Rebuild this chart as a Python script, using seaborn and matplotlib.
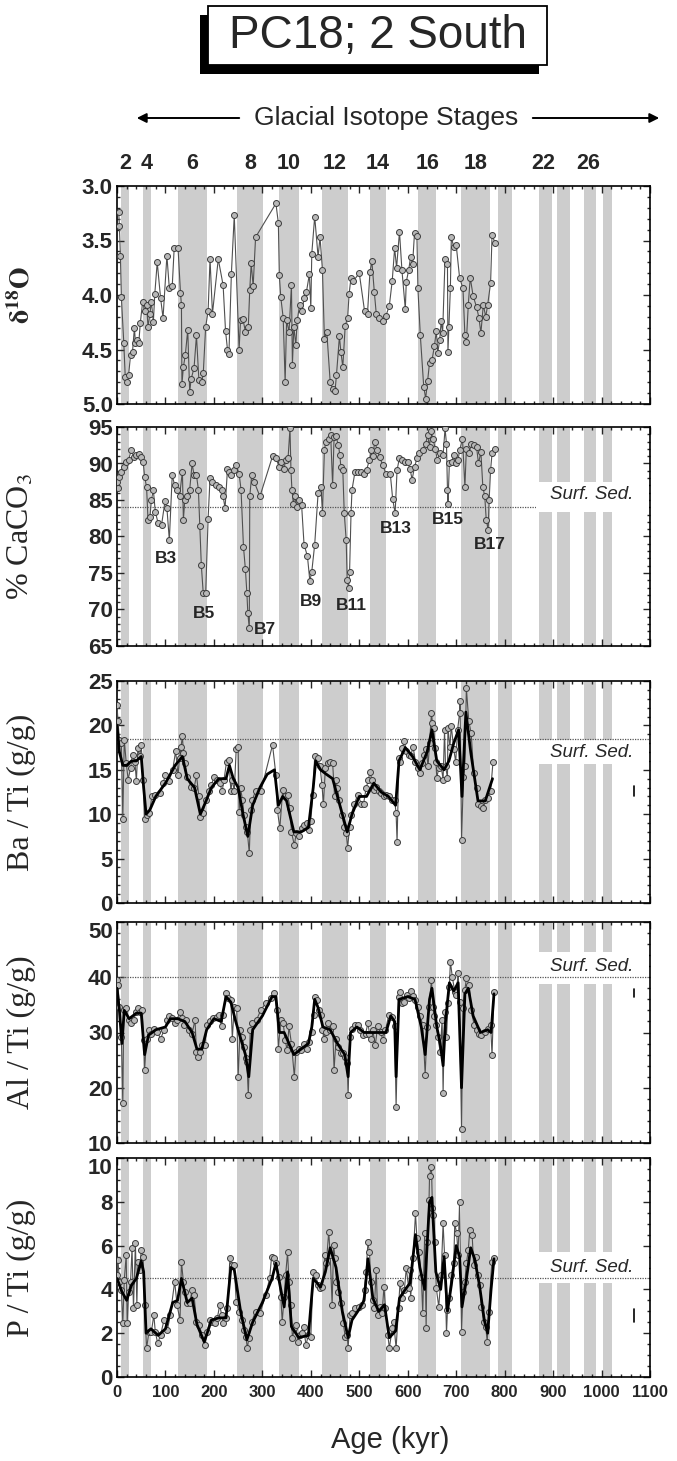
import pandas as pd
import seaborn as sns
import matplotlib.pyplot as plt
from matplotlib.patches import Rectangle, FancyArrowPatch
from matplotlib.ticker import MultipleLocator

# glacial isotope stage bands (kyr)
band_start = [9, 53, 126, 248, 335, 423, 522, 622, 709, 787, 870, 909, 964, 1004]
band_end = [25, 71, 185, 302, 376, 476, 555, 659, 769, 816, 897, 934, 989, 1021]
stage_labels = ['2', '4', '6', '8', '10', '12', '14', '16', '18', '22', '26']
stage_pos = [17, 62, 155, 275, 355, 450, 538, 640, 739, 880, 972]

# d18O
d18o_age = [3.5, 5, 7, 9, 14, 17, 21, 24, 28, 32,
            36, 38, 41, 45, 48, 53, 57, 61, 64, 68,
            71, 75, 78, 83, 90, 95, 103, 108, 114, 118,
            126, 131, 133, 134, 137, 141, 146, 150, 153, 159,
            164, 169, 175, 178, 183, 188, 192, 197, 209, 219,
            224, 228, 231, 236, 242, 252, 255, 260, 265, 271,
            274, 277, 281, 286, 328, 333, 335, 338, 343, 347,
            350, 355, 360, 362, 365, 369, 372, 377, 382, 386,
            391, 397, 400, 402, 408, 415, 419, 424, 428, 433,
            440, 445, 450, 453, 459, 462, 466, 471, 476, 479,
            483, 488, 500, 511, 517, 522, 526, 531, 535, 541,
            548, 555, 562, 568, 573, 577, 583, 588, 595, 597,
            602, 606, 610, 614, 619, 621, 626, 633, 637, 641,
            645, 650, 655, 659, 662, 666, 669, 672, 677, 682,
            683, 685, 688, 690, 695, 700, 707, 714, 718, 721,
            725, 729, 735, 742, 747, 751, 756, 761, 765, 771,
            774, 780]
d18o_val = [3.24, 3.37, 3.64, 4.02, 4.44, 4.75, 4.80, 4.73, 4.55, 4.52,
            4.30, 4.44, 4.41, 4.44, 4.26, 4.06, 4.15, 4.09, 4.29, 4.17,
            4.06, 4.25, 3.99, 3.70, 4.03, 4.21, 3.64, 3.94, 3.92, 3.57,
            3.57, 3.98, 4.09, 4.82, 4.66, 4.55, 4.32, 4.89, 4.77, 4.67,
            4.37, 4.78, 4.80, 4.72, 4.29, 4.15, 3.67, 4.17, 3.67, 3.91,
            4.33, 4.50, 4.54, 3.81, 3.27, 4.50, 4.23, 4.22, 4.34, 4.29,
            3.95, 3.71, 3.92, 3.47, 3.16, 3.34, 3.82, 4.02, 4.21, 4.80,
            4.23, 4.34, 3.91, 4.64, 4.29, 4.46, 4.23, 4.09, 4.15, 4.03,
            3.97, 3.81, 4.12, 3.62, 3.28, 3.65, 3.47, 3.77, 4.40, 4.34,
            4.80, 4.86, 4.88, 4.73, 4.38, 4.52, 4.66, 4.28, 4.21, 3.99,
            3.84, 3.87, 3.80, 4.15, 4.17, 3.79, 3.69, 3.97, 4.17, 4.21,
            4.24, 4.19, 4.10, 3.87, 3.57, 3.75, 3.42, 3.77, 4.13, 3.88,
            3.77, 3.65, 3.72, 3.43, 3.46, 3.94, 4.37, 4.84, 4.95, 4.79,
            4.62, 4.60, 4.47, 4.33, 4.53, 4.41, 4.24, 4.35, 3.67, 3.72,
            4.52, 4.29, 3.94, 3.47, 3.56, 3.54, 3.84, 3.94, 4.37, 4.43,
            4.09, 3.84, 4.01, 4.11, 4.21, 4.35, 4.09, 4.20, 4.09, 3.89,
            3.45, 3.52]

# % CaCO3
caco3_age = [0, 2, 5, 9, 14, 19, 24, 29, 35, 39,
             45, 50, 54, 57, 61, 64, 68, 71, 75, 79,
             85, 92, 99, 103, 108, 114, 119, 124, 129, 135,
             137, 140, 145, 150, 155, 159, 164, 168, 171, 174,
             178, 183, 188, 192, 197, 204, 210, 216, 219, 223,
             228, 232, 236, 241, 246, 252, 256, 261, 265, 268,
             270, 273, 274, 278, 283, 295, 321, 328, 335, 339,
             345, 348, 353, 357, 359, 361, 364, 367, 371, 376,
             381, 386, 393, 398, 402, 408, 415, 421, 424, 428,
             431, 437, 441, 445, 448, 452, 457, 460, 462, 466,
             469, 473, 475, 478, 480, 483, 485, 491, 497, 504,
             509, 515, 521, 524, 528, 532, 537, 542, 548, 555,
             564, 569, 574, 578, 583, 588, 595, 600, 605, 609,
             614, 619, 624, 631, 637, 641, 645, 648, 652, 657,
             661, 666, 673, 677, 680, 682, 683, 686, 691, 695,
             699, 704, 707, 713, 718, 721, 727, 731, 736, 742,
             746, 751, 755, 759, 762, 766, 768, 771, 774, 780]
caco3_val = [87.5, 86.6, 88.2, 88.9, 89.5, 90.2, 90.5, 91.8, 90.9, 91.1,
             91.3, 90.9, 90.2, 88.2, 86.8, 82.3, 82.7, 85.0, 86.4, 83.4,
             81.8, 81.6, 84.8, 83.9, 79.5, 88.4, 87.0, 86.4, 85.5, 88.9,
             82.3, 85.0, 85.5, 86.4, 90.0, 88.4, 88.4, 86.4, 81.4, 76.1,
             72.2, 72.2, 82.4, 88.0, 87.5, 87.0, 86.8, 86.4, 85.5, 83.9,
             89.2, 88.9, 88.4, 89.1, 89.8, 88.6, 86.4, 78.6, 75.5, 72.3,
             69.5, 67.4, 85.5, 88.4, 87.5, 85.5, 91.0, 90.7, 89.5, 90.2,
             89.3, 90.5, 90.7, 94.8, 89.1, 86.4, 84.5, 85.5, 84.0, 85.0,
             84.3, 78.9, 77.3, 73.9, 75.2, 78.9, 85.9, 86.8, 83.2, 91.8,
             93.0, 93.4, 93.9, 87.0, 93.6, 93.7, 92.5, 91.1, 89.5, 89.1,
             83.2, 79.5, 74.1, 72.9, 75.2, 83.2, 86.4, 88.8, 88.9, 88.9,
             88.6, 89.1, 90.5, 91.8, 91.0, 93.0, 91.8, 90.9, 89.8, 88.6,
             88.6, 85.1, 83.2, 89.1, 90.8, 90.5, 90.2, 90.2, 89.2, 87.8,
             89.5, 90.7, 91.4, 91.9, 92.7, 93.9, 92.3, 94.5, 93.4, 92.0,
             90.5, 91.4, 91.1, 94.8, 92.7, 86.4, 84.5, 90.1, 90.2, 91.2,
             90.0, 90.5, 91.8, 93.4, 86.8, 92.0, 91.4, 92.7, 92.5, 92.3,
             90.0, 91.6, 86.8, 85.5, 82.3, 80.9, 85.0, 89.1, 91.4, 92.0]
b_labels = ['B3', 'B5', 'B7', 'B9', 'B11', 'B13', 'B15', 'B17']
b_age = [100, 179, 306, 400, 483, 576, 683, 769]
b_val = [77.0, 69.5, 67.3, 71.1, 70.5, 81.1, 82.3, 78.9]

# Ba / Ti
ba_age = [0, 2, 5, 9, 12, 15, 19, 23, 28, 32,
          37, 40, 43, 47, 50, 54, 57, 62, 67, 72,
          79, 88, 95, 100, 107, 115, 121, 126, 129, 132,
          135, 137, 140, 145, 152, 159, 164, 169, 172, 177,
          183, 190, 195, 200, 207, 212, 217, 221, 226, 231,
          235, 238, 242, 246, 250, 252, 255, 259, 262, 266,
          269, 273, 276, 279, 286, 297, 321, 328, 331, 336,
          342, 347, 352, 357, 360, 366, 370, 376, 381, 386,
          392, 397, 400, 404, 408, 414, 419, 423, 426, 430,
          435, 440, 445, 449, 452, 455, 459, 464, 469, 473,
          476, 480, 483, 490, 497, 504, 509, 514, 519, 522,
          526, 530, 535, 540, 545, 550, 555, 562, 568, 573,
          576, 578, 582, 585, 589, 593, 597, 602, 606, 611,
          616, 621, 626, 630, 634, 638, 642, 645, 649, 651,
          654, 656, 658, 660, 664, 669, 673, 676, 678, 682,
          683, 687, 690, 695, 699, 703, 707, 708, 711, 715,
          718, 721, 726, 731, 736, 742, 746, 751, 756, 760,
          766, 771, 776]
ba_val = [22.3, 20.5, 18.4, 18.0, 9.5, 18.4, 15.8, 13.9, 15.2, 16.7,
          15.9, 13.7, 17.4, 16.5, 17.8, 13.9, 9.5, 9.9, 10.1, 12.0,
          12.2, 12.4, 13.5, 14.4, 13.7, 15.0, 17.1, 14.4, 16.3, 17.6,
          18.8, 16.9, 15.8, 14.2, 13.1, 12.9, 14.4, 12.0, 9.7, 10.1,
          11.6, 12.6, 13.3, 14.2, 13.9, 13.5, 12.6, 13.9, 15.9, 16.1,
          12.6, 13.9, 12.6, 17.3, 17.6, 10.3, 12.9, 11.6, 9.9, 8.6,
          8.0, 5.6, 10.5, 11.6, 12.6, 12.6, 17.8, 14.4, 10.5, 8.4,
          12.7, 12.0, 12.2, 10.7, 8.0, 6.5, 7.9, 7.5, 8.4, 8.8,
          9.0, 8.2, 9.2, 12.2, 16.5, 16.3, 15.4, 13.3, 11.1, 15.2,
          15.8, 15.9, 15.8, 12.0, 13.9, 12.9, 11.6, 9.9, 8.6, 7.9,
          6.2, 8.6, 9.9, 11.2, 12.2, 11.2, 11.2, 12.9, 13.9, 14.8,
          13.9, 12.7, 13.1, 12.6, 12.4, 12.0, 12.2, 12.0, 11.6, 11.6,
          10.1, 6.9, 16.3, 15.9, 17.4, 18.2, 17.1, 16.7, 16.5, 17.6,
          15.9, 15.2, 14.6, 15.8, 16.7, 17.3, 15.4, 18.0, 21.4, 20.3,
          19.7, 17.4, 15.9, 14.1, 15.2, 15.4, 13.9, 19.5, 15.4, 14.1,
          19.7, 17.6, 19.9, 17.3, 15.9, 19.5, 21.4, 22.7, 7.1, 14.2,
          15.4, 24.2, 20.5, 19.1, 14.6, 12.9, 11.1, 10.9, 10.7, 11.6,
          11.8, 12.6, 15.9]
ba_smooth_age = [0, 5, 12, 20, 30, 40, 50, 55, 60, 68,
                 80, 100, 120, 135, 145, 160, 172, 180, 195, 210,
                 225, 232, 240, 250, 260, 270, 280, 295, 310, 325,
                 333, 342, 350, 365, 380, 395, 405, 410, 420, 432,
                 445, 460, 475, 485, 500, 515, 530, 545, 560, 575,
                 582, 595, 610, 625, 640, 650, 660, 675, 685, 695,
                 705, 712, 720, 730, 745, 760, 775]
ba_smooth_val = [20, 17, 15.5, 15.5, 16, 16, 16.5, 13, 10, 10.5,
                 12, 13.5, 15.5, 16.5, 14, 13, 10, 11, 13, 14,
                 14, 15.5, 14, 13, 10, 7.5, 11, 13, 14.5, 15,
                 11, 12, 11.5, 8, 8, 8.5, 13, 16, 15, 14.5,
                 14, 11, 8, 10, 12, 12, 13.5, 12.5, 12, 11,
                 16, 17.5, 16.5, 15, 17, 19.5, 16, 15, 16, 18,
                 19.5, 12, 21.5, 17, 11.5, 11.5, 14]

# Al / Ti
al_age = [0, 2, 5, 9, 12, 14, 19, 24, 29, 35,
          39, 43, 48, 52, 55, 57, 61, 66, 71, 76,
          83, 90, 97, 104, 108, 114, 119, 124, 130, 135,
          138, 143, 148, 155, 161, 164, 168, 171, 176, 181,
          186, 192, 199, 206, 210, 216, 219, 224, 229, 235,
          238, 242, 247, 250, 254, 259, 262, 266, 268, 271,
          275, 279, 288, 297, 307, 317, 324, 330, 333, 338,
          343, 347, 351, 355, 360, 366, 369, 375, 380, 386,
          392, 397, 402, 406, 408, 412, 416, 421, 424, 428,
          431, 435, 440, 445, 448, 452, 457, 462, 467, 471,
          475, 477, 480, 485, 491, 497, 502, 507, 513, 518,
          521, 524, 528, 533, 538, 544, 549, 554, 561, 568,
          573, 576, 581, 584, 589, 593, 598, 602, 607, 611,
          616, 621, 626, 631, 636, 640, 644, 649, 652, 654,
          659, 662, 667, 671, 673, 676, 680, 683, 686, 688,
          692, 697, 700, 704, 707, 711, 714, 718, 721, 727,
          731, 737, 742, 747, 752, 759, 766, 771, 774, 778]
al_val = [39.5, 38.6, 34.7, 29.2, 17.2, 34.1, 34.4, 32.3, 31.7, 32.3,
          33.8, 34.4, 33.8, 34.1, 28.7, 23.3, 28.9, 30.4, 29.8, 30.6,
          30.1, 28.9, 30.4, 32.3, 32.9, 32.6, 31.7, 32.3, 33.8, 32.6,
          31.4, 32.3, 30.4, 29.8, 32.3, 26.5, 25.6, 26.5, 27.7, 27.7,
          31.4, 32.0, 32.6, 32.8, 33.2, 31.1, 33.2, 37.1, 36.2, 35.9,
          28.9, 34.7, 34.4, 22.0, 30.4, 29.2, 27.4, 25.3, 24.7, 18.7,
          30.4, 31.7, 32.3, 34.1, 35.3, 36.2, 37.1, 34.1, 27.1, 32.3,
          31.7, 28.7, 26.8, 31.1, 28.0, 22.0, 26.5, 27.1, 26.8, 28.0,
          27.1, 28.3, 30.1, 33.2, 36.5, 35.9, 34.1, 33.2, 30.4, 28.9,
          30.1, 31.7, 30.4, 31.1, 23.2, 28.9, 27.4, 26.2, 26.2, 25.6,
          24.4, 18.6, 29.2, 30.7, 31.4, 31.4, 30.4, 29.5, 29.8, 31.7,
          29.8, 28.9, 30.4, 27.7, 31.1, 30.1, 28.6, 30.4, 33.2, 32.8,
          31.1, 16.6, 36.5, 37.3, 35.3, 35.6, 36.8, 36.2, 37.6, 36.6,
          35.9, 34.7, 32.9, 31.4, 22.3, 31.0, 34.7, 39.5, 34.7, 32.9,
          31.4, 29.2, 26.5, 32.3, 19.0, 33.8, 29.2, 35.3, 38.3, 42.8,
          40.1, 37.4, 36.8, 40.7, 35.6, 12.5, 34.4, 37.7, 39.8, 38.6,
          34.1, 31.4, 30.4, 29.8, 29.5, 30.1, 30.7, 31.4, 25.9, 37.4]
al_smooth_age = [0, 5, 10, 15, 25, 40, 50, 57, 65, 80,
                 100, 110, 125, 140, 155, 165, 175, 185, 200, 215,
                 225, 235, 245, 255, 265, 272, 280, 300, 320, 328,
                 335, 345, 355, 365, 380, 395, 402, 408, 415, 425,
                 440, 455, 470, 477, 482, 495, 510, 525, 540, 555,
                 565, 573, 576, 582, 600, 615, 628, 636, 645, 650,
                 660, 667, 673, 678, 686, 695, 704, 711, 718, 725,
                 735, 750, 765, 772, 778]
al_smooth_val = [38, 34, 28, 34, 32.5, 33.5, 33.5, 26, 29.5, 30.5,
                 31, 32.5, 32.5, 32, 30, 27, 27, 30.5, 32.5, 32,
                 36.5, 35.5, 32, 29, 26, 22, 30.5, 33, 36.5, 36.5,
                 30, 30, 28, 26, 27, 28, 31, 36, 34.5, 31,
                 30.5, 28, 26, 22, 30, 31, 30, 30, 30, 30,
                 33, 32, 22, 36, 36.5, 36, 31, 26, 36, 38,
                 31, 28, 24, 32, 39, 37.5, 39, 20, 37, 38,
                 33, 30, 30.5, 30, 37]

# P / Ti
p_age = [0, 2, 5, 9, 12, 15, 19, 21, 24, 28,
         31, 34, 38, 41, 43, 47, 50, 54, 57, 61,
         66, 71, 76, 79, 84, 90, 97, 104, 110, 119,
         124, 130, 133, 137, 140, 145, 150, 155, 159, 164,
         169, 176, 181, 186, 192, 197, 202, 207, 212, 216,
         219, 224, 228, 233, 237, 242, 246, 252, 257, 262,
         266, 269, 272, 278, 286, 295, 307, 315, 319, 324,
         329, 334, 338, 341, 345, 348, 352, 355, 359, 362,
         366, 369, 373, 378, 382, 385, 390, 395, 400, 405,
         410, 415, 419, 424, 429, 432, 437, 440, 444, 447,
         450, 453, 457, 462, 467, 471, 475, 477, 481, 486,
         492, 499, 506, 511, 514, 518, 521, 524, 528, 531,
         535, 538, 542, 547, 551, 554, 559, 562, 568, 571,
         576, 581, 584, 589, 593, 597, 602, 604, 606, 611,
         616, 619, 623, 628, 631, 635, 638, 640, 644, 645,
         649, 651, 653, 656, 659, 664, 669, 673, 676, 680,
         682, 685, 690, 695, 697, 701, 704, 707, 711, 714,
         718, 721, 725, 728, 733, 736, 740, 744, 749, 752,
         757, 761, 764, 768, 773, 778]
p_val = [4.66, 5.34, 4.35, 3.97, 2.45, 4.43, 5.57, 2.45, 3.90, 4.35,
         5.88, 3.14, 6.10, 3.29, 5.27, 4.89, 5.80, 5.49, 3.29, 1.31,
         2.07, 2.07, 2.83, 2.07, 1.54, 1.92, 2.60, 2.15, 2.83, 4.35,
         3.29, 2.60, 5.27, 4.35, 3.90, 3.36, 3.36, 3.97, 3.74, 2.53,
         2.37, 1.92, 1.46, 2.07, 2.60, 2.53, 2.45, 2.68, 3.29, 2.83,
         2.45, 2.68, 3.14, 5.42, 5.11, 5.11, 3.44, 2.98, 2.60, 2.15,
         1.84, 1.31, 1.77, 2.53, 2.98, 2.91, 3.74, 4.51, 5.49, 5.42,
         5.19, 4.58, 3.67, 2.53, 3.67, 4.66, 5.69, 4.35, 3.29, 1.77,
         2.22, 2.37, 1.61, 1.92, 1.99, 2.30, 1.46, 1.92, 1.84, 4.81,
         4.66, 4.20, 4.05, 4.12, 5.57, 5.19, 6.64, 5.57, 3.29, 6.03,
         5.42, 4.35, 3.90, 3.36, 2.45, 1.84, 1.92, 1.31, 2.83, 2.91,
         3.14, 3.21, 3.29, 3.97, 4.81, 6.18, 5.72, 4.35, 3.52, 3.14,
         4.89, 2.83, 3.21, 2.91, 4.12, 3.14, 1.92, 1.31, 2.22, 2.53,
         1.31, 3.14, 4.28, 3.59, 3.97, 4.96, 4.05, 4.89, 3.59, 5.42,
         7.47, 6.33, 5.72, 4.58, 2.91, 6.56, 2.22, 6.18, 8.08, 9.20,
         9.60, 7.70, 7.40, 6.18, 4.05, 3.21, 4.66, 7.02, 5.57, 1.99,
         3.06, 3.59, 4.66, 5.19, 7.02, 6.56, 5.57, 8.01, 2.07, 3.90,
         4.35, 5.19, 5.80, 6.71, 6.48, 5.11, 5.49, 4.66, 4.20, 3.21,
         2.53, 2.30, 1.61, 2.98, 5.27, 5.42]
p_smooth_age = [0, 10, 20, 30, 40, 50, 55, 60, 70, 85,
                100, 115, 125, 133, 145, 155, 165, 180, 195, 210,
                225, 235, 242, 255, 268, 280, 300, 320, 328, 338,
                345, 352, 360, 375, 395, 405, 420, 430, 440, 452,
                465, 477, 485, 500, 510, 518, 528, 540, 552, 562,
                575, 583, 595, 605, 616, 625, 635, 645, 650, 658,
                668, 675, 682, 690, 700, 707, 712, 720, 730, 738,
                748, 758, 765, 772, 778]
p_smooth_val = [4.5, 3.9, 3.5, 4.2, 4.5, 5.3, 4.8, 2.0, 2.2, 1.9,
                2.2, 3.4, 3.5, 4.5, 3.4, 3.6, 2.4, 1.6, 2.6, 2.7,
                2.7, 5.0, 4.9, 3.0, 1.7, 2.5, 3.4, 4.5, 5.2, 4.0,
                3.2, 4.8, 2.3, 1.8, 1.9, 4.5, 4.1, 4.8, 5.9, 5.0,
                3.0, 1.8, 2.6, 3.1, 3.5, 5.4, 3.6, 3.0, 3.3, 1.8,
                2.1, 3.6, 4.0, 4.3, 6.5, 5.0, 4.0, 8.0, 8.2, 4.8,
                4.0, 5.5, 3.0, 4.2, 6.0, 5.5, 3.2, 4.3, 5.9, 5.4,
                4.2, 2.6, 2.0, 4.0, 5.4]

# surface sediment reference values and analytical error bars
caco3_surf = 84.0
ba_surf = 18.5
al_surf = 40.0
p_surf = 4.5
err_age = 1068
ba_err = [12.1, 13.2]
al_err = [36.4, 37.9]
p_err = [2.5, 3.1]

sns.set_style('ticks')
plt.rcParams['font.family'] = ['Liberation Sans', 'DejaVu Sans']
plt.rcParams['mathtext.fontset'] = 'stix'
plt.rcParams['axes.linewidth'] = 1.2

W, H = 677, 1461
fig = plt.figure(figsize=(W / 100, H / 100), dpi=100)
BAND = '#cdcdcd'
SERIF = ['Liberation Serif', 'DejaVu Serif']


def add_panel(top, bottom):
    return fig.add_axes([117 / W, 1 - bottom / H, 533 / W, (bottom - top) / H])


def shade(ax):
    for s, e in zip(band_start, band_end):
        ax.axvspan(s, e, color=BAND, lw=0, zorder=0)


def draw(ax, age, val, smooth_age=None, smooth_val=None):
    df = pd.DataFrame({'age': age, 'val': val})
    sns.lineplot(data=df, x='age', y='val', ax=ax, sort=False, estimator=None,
                 color='#505050', lw=0.8, marker='o', markersize=4.3,
                 markerfacecolor='#b8b8b8', markeredgecolor='#3c3c3c',
                 markeredgewidth=0.7, zorder=3)
    if smooth_age is not None:
        sm = pd.DataFrame({'age': smooth_age, 'val': smooth_val})
        sns.lineplot(data=sm, x='age', y='val', ax=ax, sort=False, estimator=None,
                     color='black', lw=2.0, zorder=4)


def surf(ax, yline, ytext, ybox, line_on_top=True):
    ax.add_patch(Rectangle((865, ybox[0]), 232, ybox[1] - ybox[0], fc='white',
                           ec='none', zorder=1.5))
    ax.axhline(yline, color='#555555', lw=0.9, ls=(0, (1, 1)),
               zorder=2 if line_on_top else 1.2)
    ax.text(980, ytext, 'Surf. Sed.', style='italic', fontsize=13.5,
            ha='center', va='center', zorder=2.5)


def style(ax, ylim, major, minor, fmt, label, label_size=23, show_x=False):
    ax.set_xlim(0, 1100)
    ax.set_ylim(*ylim)
    ax.xaxis.set_major_locator(MultipleLocator(100))
    ax.xaxis.set_minor_locator(MultipleLocator(20))
    ax.yaxis.set_major_locator(MultipleLocator(major))
    ax.yaxis.set_minor_locator(MultipleLocator(minor))
    ax.tick_params(which='both', direction='in', top=True, right=True, width=1)
    ax.tick_params(which='major', length=5)
    ax.tick_params(which='minor', length=2.5)
    ax.tick_params(axis='y', labelsize=16, pad=3)
    ax.yaxis.set_major_formatter(fmt)
    if show_x:
        ax.tick_params(axis='x', labelsize=12, pad=6)
    else:
        ax.tick_params(axis='x', labelbottom=False)
    ax.set_xlabel('')
    ax.set_ylabel(label, fontsize=label_size, fontfamily=SERIF)
    ax.yaxis.set_label_coords(-0.152, 0.5)
    for sp in ax.spines.values():
        sp.set_color('black')


# panel 1: d18O
ax1 = add_panel(186, 404)
shade(ax1)
draw(ax1, d18o_age, d18o_val)
style(ax1, (5.0, 3.0), 0.5, 0.1, '{x:.1f}', r'$\mathbf{\delta^{18}O}$', label_size=20)
for lab, pos in zip(stage_labels, stage_pos):
    ax1.text(pos, 1.105, lab, transform=ax1.get_xaxis_transform(), ha='center',
             va='center', fontsize=15.5, fontweight='bold')

# panel 2: CaCO3
ax2 = add_panel(427, 646)
shade(ax2)
surf(ax2, caco3_surf, 85.7, (83.3, 87.4), line_on_top=False)
draw(ax2, caco3_age, caco3_val)
for lab, a, v in zip(b_labels, b_age, b_val):
    ax2.text(a, v, lab, ha='center', va='center', fontsize=12.5,
             fontweight='bold', zorder=5)
style(ax2, (65, 95), 5, 1, '{x:.0f}', '% CaCO$_3$')

# panel 3: Ba/Ti
ax3 = add_panel(681, 903)
shade(ax3)
surf(ax3, ba_surf, 16.9, (15.6, 18.3))
draw(ax3, ba_age, ba_val, ba_smooth_age, ba_smooth_val)
ax3.plot([err_age, err_age], ba_err, color='black', lw=1.2)
style(ax3, (0, 25), 5, 1, '{x:.0f}', 'Ba / Ti (g/g)')

# panel 4: Al/Ti
ax4 = add_panel(922, 1143)
shade(ax4)
surf(ax4, al_surf, 41.9, (38.7, 44.6))
draw(ax4, al_age, al_val, al_smooth_age, al_smooth_val)
ax4.plot([err_age, err_age], al_err, color='black', lw=1.2)
style(ax4, (10, 50), 10, 2, '{x:.0f}', 'Al / Ti (g/g)')

# panel 5: P/Ti
ax5 = add_panel(1158, 1377)
shade(ax5)
surf(ax5, p_surf, 5.0, (4.3, 5.7))
draw(ax5, p_age, p_val, p_smooth_age, p_smooth_val)
ax5.plot([err_age, err_age], p_err, color='black', lw=1.2)
style(ax5, (0, 10), 2, 0.5, '{x:.0f}', 'P / Ti (g/g)', show_x=True)

fig.text(390 / W, 1 - 1440 / H, 'Age (kyr)', fontsize=21, ha='center', va='center')

# title box with shadow
fig.add_artist(Rectangle((200 / W, 1 - 74 / H), 339 / W, 59 / H,
                         transform=fig.transFigure, fc='black', ec='none'))
fig.add_artist(Rectangle((208 / W, 1 - 65 / H), 339 / W, 59 / H,
                         transform=fig.transFigure, fc='white', ec='black', lw=1.3))
fig.text(378 / W, 1 - 36 / H, 'PC18; 2 South', fontsize=33, ha='center', va='center')

y_arrow = 1 - 118 / H
fig.text(386 / W, y_arrow, 'Glacial Isotope Stages', fontsize=19,
         ha='center', va='center')
fig.add_artist(FancyArrowPatch((242 / W, y_arrow), (134 / W, y_arrow),
                               transform=fig.transFigure, arrowstyle='-|>',
                               mutation_scale=14, lw=1.4, color='black'))
fig.add_artist(FancyArrowPatch((530 / W, y_arrow), (662 / W, y_arrow),
                               transform=fig.transFigure, arrowstyle='-|>',
                               mutation_scale=14, lw=1.4, color='black'))

# bold tick labels; top labels of the lower stacked panels hang below the frame
fig.canvas.draw()
for ax in (ax1, ax2, ax3, ax4, ax5):
    for t in ax.get_yticklabels() + ax.get_xticklabels():
        t.set_fontweight('bold')
for t in ax4.get_yticklabels():
    if t.get_text() == '50':
        t.set_va('top')
for t in ax5.get_yticklabels():
    if t.get_text() == '10':
        t.set_va('top')

fig.savefig('out.png', dpi=100)
